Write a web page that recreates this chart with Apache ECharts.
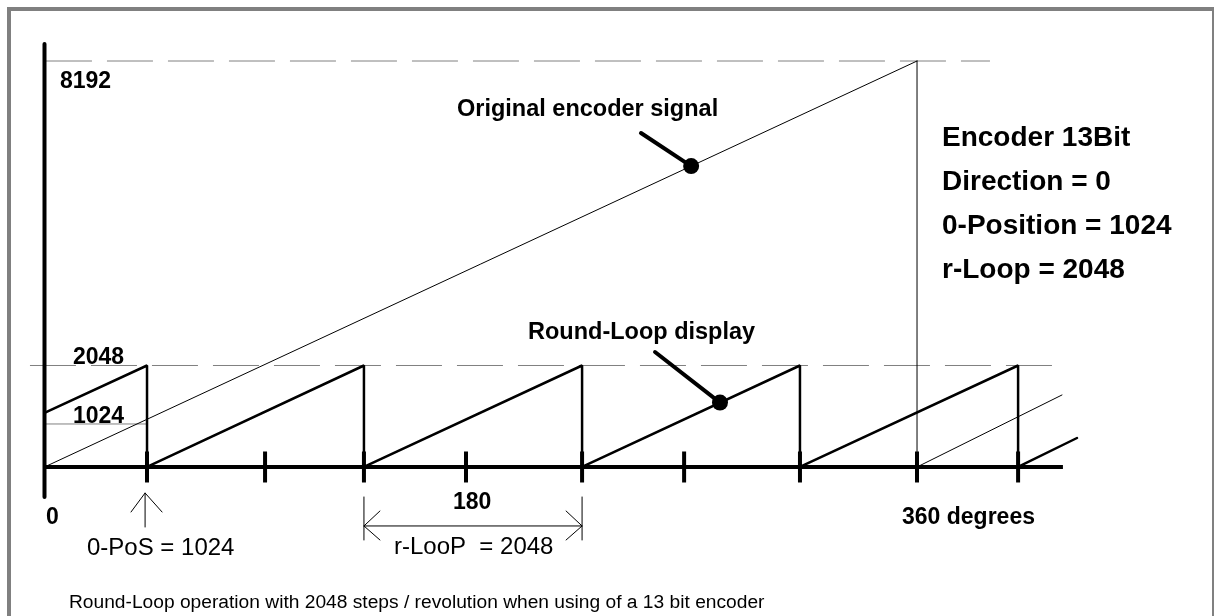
<!DOCTYPE html>
<html>
<head>
<meta charset="utf-8">
<script src="https://cdn.jsdelivr.net/npm/echarts@6/dist/echarts.min.js"></script>
<style>
  html, body { margin: 0; padding: 0; background: #fff; }
  #chart { width: 1214px; height: 616px; }
</style>
</head>
<body>
<div id="chart"></div>
<script>
// x in degrees, y in encoder steps
const xAxisLine = [[0, 0], [420.2, 0]];
const yAxisLine = [[0, -605], [0, 8535]];
const original = [[0, 0], [360, 8192]];
const originalWrap = [[360, 0], [419.8, 1453]];
const sawtooth = [[0, 1090], [42.3, 2048], [42.3, 0], [131.8, 2048], [131.8, 0], [221.8, 2048], [221.8, 0],
  [311.7, 2048], [311.7, 0], [401.7, 2048], [401.7, 0], [426, 585]];
const fullScale = [[0.6, 8192], [390.1, 8192]];
const loopScale = [[-6, 2048], [419, 2048]];
const zeroPosLevel = [[0, 868], [42.3, 868]];
const revMarker = [[360, 0], [360, 8192]];
const ticks = [42.3, 91.0, 131.8, 173.9, 221.8, 263.9, 311.7, 360, 401.7];
const pointers = [
  [[246.1, 6739], [266.8, 6071]],
  [[251.9, 2320], [278.7, 1300]]
];
const dots = [[266.8, 6071], [278.7, 1300]];
const zeroPosArrow = [
  [[41.5, -525], [41.5, -1211]],
  [[35.7, -908], [41.5, -525], [48.5, -908]]
];
const loopDimension = [
  [[131.8, -605], [131.8, -1473]],
  [[221.8, -605], [221.8, -1473]],
  [[131.8, -1190], [221.8, -1190]],
  [[138.4, -888], [131.8, -1190], [138.4, -1473]],
  [[215.2, -888], [221.8, -1190], [215.2, -1473]]
];
const infoLines = ['Encoder 13Bit', 'Direction = 0', '0-Position = 1024', 'r-Loop = 2048'];

const FONT = '"Liberation Sans", Arial, sans-serif';

const chart = echarts.init(document.getElementById('chart'));

const line = (data, width, color, type, cap) => ({
  type: 'line',
  data: data,
  symbol: 'none',
  silent: true,
  lineStyle: { width: width, color: color || '#000', type: type || 'solid', cap: cap || 'round' }
});

const series = [
  line(fullScale, 1, '#808080', [46, 15], 'butt'),
  line(loopScale, 1, '#808080', [46, 15], 'butt'),
  line(zeroPosLevel, 1, '#808080', 'solid', 'butt'),
  line(revMarker, 1, '#000'),
  line(original, 1, '#000'),
  line(originalWrap, 1, '#000'),
  line(sawtooth, 2.5, '#000'),
  line(xAxisLine, 4, '#000', 'solid', 'butt'),
  line(yAxisLine, 4, '#000'),
  ...pointers.map(p => line(p, 4, '#000')),
  ...zeroPosArrow.map(p => line(p, 1, '#000')),
  ...loopDimension.map(p => line(p, 1, '#000')),
  {
    type: 'scatter',
    data: ticks.map(t => [t, 0]),
    symbol: 'rect',
    symbolSize: [4, 31],
    itemStyle: { color: '#000', opacity: 1 },
    silent: true
  },
  {
    type: 'scatter',
    data: dots,
    symbol: 'circle',
    symbolSize: 16,
    itemStyle: { color: '#000', opacity: 1 },
    silent: true
  }
];

const text = (x, y, str, size, bold) => ({
  type: 'text',
  x: x,
  y: y,
  style: {
    text: str,
    fill: '#000',
    font: (bold ? 'bold ' : '') + size + 'px ' + FONT,
    textVerticalAlign: 'middle'
  }
});

// 1 degree = 2.42361 px, 1 step = 0.049561 px; origin at (44.5, 467)
chart.setOption({
  animation: false,
  backgroundColor: '#fff',
  grid: { left: 28.75, right: 135.8, top: 40, bottom: 66 },
  xAxis: {
    type: 'value', min: -6.5, max: 426.5,
    axisLine: { show: false }, axisTick: { show: false }, axisLabel: { show: false }, splitLine: { show: false }
  },
  yAxis: {
    type: 'value', min: -1675, max: 8616,
    axisLine: { show: false }, axisTick: { show: false }, axisLabel: { show: false }, splitLine: { show: false }
  },
  series: series,
  graphic: [
    { type: 'rect', shape: { x: 9, y: 9, width: 1205, height: 620 }, style: { fill: null, stroke: '#808080', lineWidth: 4 } },
    text(60, 82, '8192', 23, true),
    text(73, 358, '2048', 23, true),
    text(73, 417, '1024', 23, true),
    text(46, 518, '0', 23, true),
    text(453, 503, '180', 23, true),
    text(902, 518, '360 degrees', 23, true),
    text(457, 110, 'Original encoder signal', 23.5, true),
    text(528, 333, 'Round-Loop display', 23.5, true),
    ...infoLines.map((s, i) => text(942, 138 + i * 44, s, 28, true)),
    text(87, 548, '0-PoS = 1024', 24, false),
    text(394, 547, 'r-LooP  = 2048', 24, false),
    text(69, 603, 'Round-Loop operation with 2048 steps / revolution when using of a 13 bit encoder', 19.2, false)
  ]
});
</script>
</body>
</html>
